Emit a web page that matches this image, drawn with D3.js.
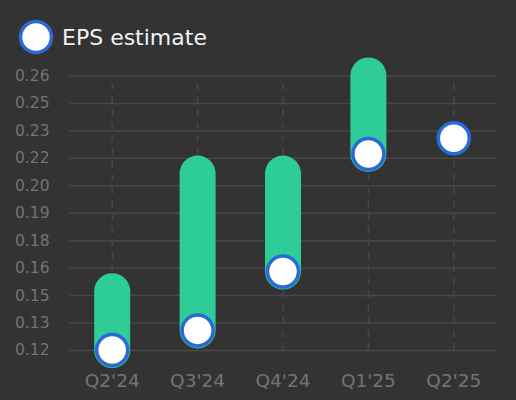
<!DOCTYPE html>
<html>
<head>
<meta charset="utf-8">
<script src="https://cdnjs.cloudflare.com/ajax/libs/d3/7.8.5/d3.min.js"></script>
<style>
    html, body { margin: 0; padding: 0; background: #333333; }
    svg { display: block; font-family: "DejaVu Sans", sans-serif; }
</style>
</head>
<body>
<div id="chart"></div>
<script>

// quarters on the x axis
var quarters = ["Q2'24", "Q3'24", "Q4'24", "Q1'25", "Q2'25"];
// range bars (null = no bar)
var rangeLow  = [0.12, 0.13, 0.16, 0.22, null];
var rangeHigh = [0.15, 0.21, 0.21, 0.26, null];
// EPS estimate markers
var epsEstimate = [0.12, 0.13, 0.16, 0.22, 0.228];
// y tick values
var yTicks = [0.12, 0.134, 0.148, 0.162, 0.176, 0.19, 0.204, 0.218, 0.232, 0.246, 0.26];

var width = 516,
    height = 400;

var plotLeft = 69.5, plotRight = 496.5,
    plotTop = 75.5, plotBottom = 350;

var green = "#2ecd97",
    blue = "#2a6ad8",
    gridColor = "#474747",
    labelColor = "#737373";

var svg = d3.select("#chart").append("svg")
    .attr("width", width)
    .attr("height", height);

svg.append("rect")
    .attr("width", width)
    .attr("height", height)
    .attr("fill", "#333333");

var x = d3.scaleBand()
    .domain(quarters)
    .range([plotLeft, plotRight]);

var y = d3.scaleLinear()
    .domain([yTicks[0], yTicks[yTicks.length - 1]])
    .range([plotBottom, plotTop]);

// horizontal grid + labels
var yAxis = d3.axisLeft(y)
    .tickValues(yTicks)
    .tickFormat(d3.format(".2f"))
    .tickSize(-(plotRight - plotLeft))
    .tickPadding(20);

var gy = svg.append("g")
    .attr("transform", "translate(" + plotLeft + ",0)")
    .call(yAxis);
gy.select(".domain").remove();
gy.selectAll(".tick line")
    .attr("stroke", gridColor)
    .attr("stroke-width", 1.5);
gy.selectAll(".tick text")
    .attr("fill", labelColor)
    .attr("font-size", 15.5)
    .attr("font-family", "DejaVu Sans");

// vertical dashed lines + quarter labels
var xAxis = d3.axisBottom(x)
    .tickSize(-(plotBottom - plotTop))
    .tickPadding(20);

var gx = svg.append("g")
    .attr("transform", "translate(0," + plotBottom + ")")
    .call(xAxis);
gx.select(".domain").remove();
gx.selectAll(".tick line")
    .attr("stroke", gridColor)
    .attr("stroke-width", 1.5)
    .attr("stroke-dasharray", "7,6");
gx.selectAll(".tick text")
    .attr("fill", labelColor)
    .attr("font-size", 18.5)
    .attr("font-family", "DejaVu Sans")
    .attr("dy", "0.9em");

// range bars
var bars = quarters.map(function(q, i) {
    return {q: q, low: rangeLow[i], high: rangeHigh[i]};
}).filter(function(d) { return d.low != null; });

svg.append("g").selectAll("line")
    .data(bars)
    .enter()
    .append("line")
    .attr("x1", function(d) { return x(d.q) + x.bandwidth() / 2; })
    .attr("x2", function(d) { return x(d.q) + x.bandwidth() / 2; })
    .attr("y1", function(d) { return y(d.low); })
    .attr("y2", function(d) { return y(d.high); })
    .attr("stroke", green)
    .attr("stroke-width", 36)
    .attr("stroke-linecap", "round");

// estimate markers
svg.append("g").selectAll("circle")
    .data(quarters.map(function(q, i) { return {q: q, v: epsEstimate[i]}; }))
    .enter()
    .append("circle")
    .attr("cx", function(d) { return x(d.q) + x.bandwidth() / 2; })
    .attr("cy", function(d) { return y(d.v); })
    .attr("r", 15.5)
    .attr("fill", "#ffffff")
    .attr("stroke", blue)
    .attr("stroke-width", 3.5);

// legend
var legend = svg.append("g");
legend.append("circle")
    .attr("cx", 36)
    .attr("cy", 37)
    .attr("r", 15.5)
    .attr("fill", "#ffffff")
    .attr("stroke", blue)
    .attr("stroke-width", 3.5);
legend.append("text")
    .attr("x", 62)
    .attr("y", 44.5)
    .attr("fill", "#f2f2f2")
    .attr("font-size", 22)
    .attr("font-family", "DejaVu Sans")
    .text("EPS estimate");

</script>
</body>
</html>
